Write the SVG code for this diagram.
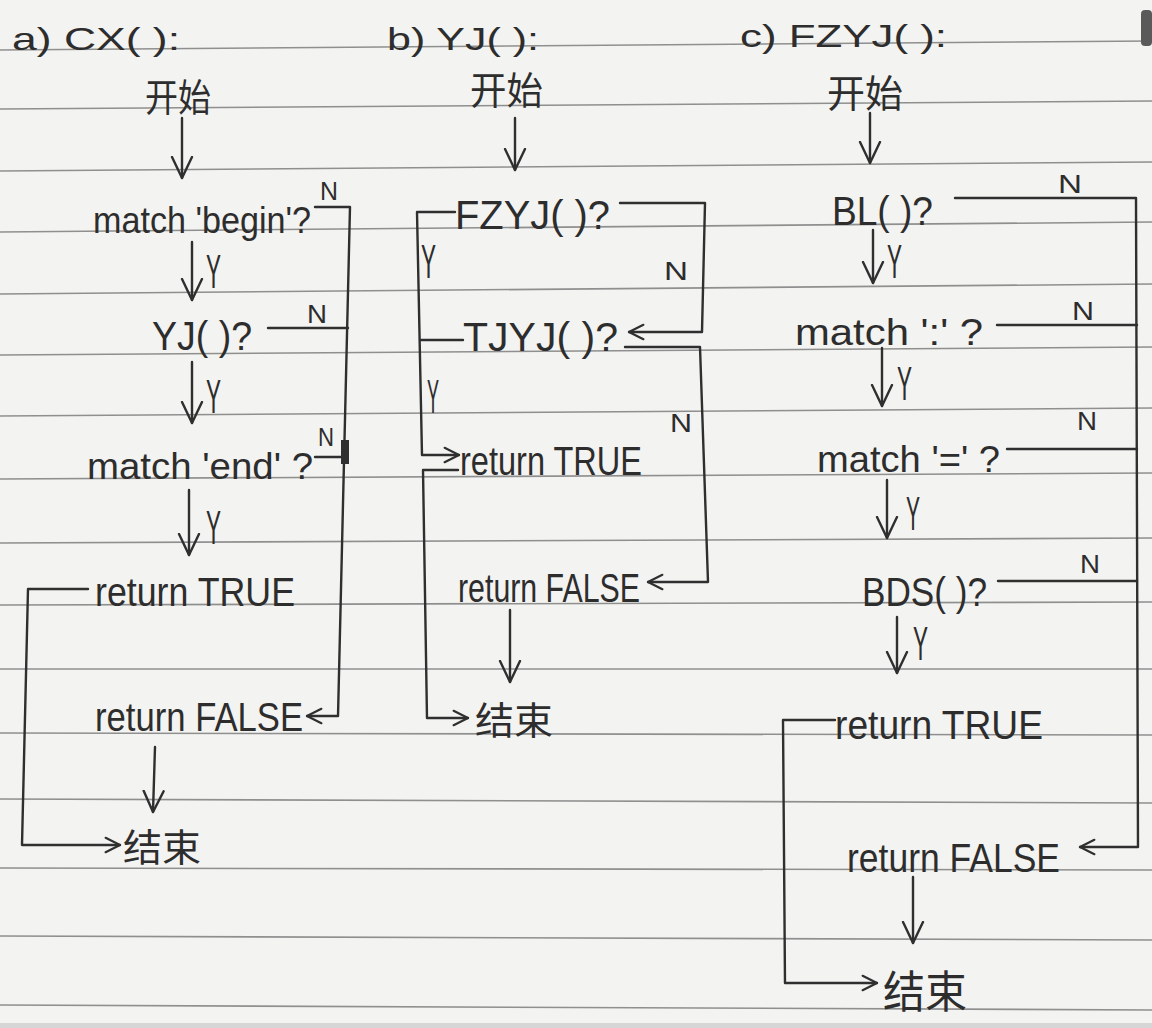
<svg xmlns="http://www.w3.org/2000/svg" width="1152" height="1028" viewBox="0 0 1152 1028">
<defs>
<style>
text{font-family:"Liberation Sans","Noto Sans CJK SC",sans-serif;fill:#2d2d2d}
.ttl{font-size:32px}
.t{font-size:36px}
.t2{font-size:40px}
.cj{font-size:38px}
.cjb{font-size:44px}
.yl{font-size:48px}
.nl{font-size:26px}
.c{fill:none;stroke:#2f2f2f;stroke-width:2.4;stroke-linecap:round;stroke-linejoin:round}
.rule{stroke:#8f8f8f;stroke-width:1.6}
</style>
<marker id="dn" viewBox="0 0 24 24" refX="22" refY="12" markerWidth="24" markerHeight="24" markerUnits="userSpaceOnUse" orient="auto"><path d="M1,2 L22,12 L1,22" fill="none" stroke="#2f2f2f" stroke-width="2.4" stroke-linecap="round" stroke-linejoin="round"/></marker>
<marker id="sd" viewBox="0 0 20 20" refX="18" refY="10" markerWidth="18" markerHeight="18" markerUnits="userSpaceOnUse" orient="auto"><path d="M2,2 L18,10 L2,18" fill="none" stroke="#2f2f2f" stroke-width="2.4" stroke-linecap="round" stroke-linejoin="round"/></marker>
</defs>
<rect width="1152" height="1028" fill="#f3f3f1"/>
<g id="paper">
<line class="rule" x1="0" y1="50" x2="1152" y2="41"/>
<line class="rule" x1="0" y1="109" x2="1152" y2="101"/>
<line class="rule" x1="0" y1="171" x2="1152" y2="162"/>
<line class="rule" x1="0" y1="232" x2="1152" y2="222"/>
<line class="rule" x1="0" y1="294" x2="1152" y2="284"/>
<line class="rule" x1="0" y1="355" x2="1152" y2="347"/>
<line class="rule" x1="0" y1="416" x2="1152" y2="408"/>
<line class="rule" x1="0" y1="479" x2="1152" y2="473"/>
<line class="rule" x1="0" y1="543" x2="1152" y2="538"/>
<line class="rule" x1="0" y1="605" x2="1152" y2="602"/>
<line class="rule" x1="0" y1="669" x2="1152" y2="669"/>
<line class="rule" x1="0" y1="733" x2="1152" y2="735"/>
<line class="rule" x1="0" y1="799" x2="1152" y2="803"/>
<line class="rule" x1="0" y1="868" x2="1152" y2="870"/>
<line class="rule" x1="0" y1="936" x2="1152" y2="940"/>
<line class="rule" x1="0" y1="1005" x2="1152" y2="1010"/>
<rect x="1141" y="10" width="11" height="36" rx="4" fill="#5a5a5a"/>
<rect x="0" y="1023" width="1152" height="5" fill="#d6d6d6"/>
</g>

<g id="connectors">
<!-- a -->
<path class="c" d="M182 118 V178" marker-end="url(#dn)"/>
<path class="c" d="M192 242 V300" marker-end="url(#dn)"/>
<path class="c" d="M192 362 V423" marker-end="url(#dn)"/>
<path class="c" d="M189 490 V555" marker-end="url(#dn)"/>
<path class="c" d="M155 747 L153 812" marker-end="url(#dn)"/>
<path class="c" d="M315 207 H350 L338 716 H307" marker-end="url(#sd)"/>
<path class="c" d="M268 328 H348"/>
<path class="c" d="M315 457 H346"/>
<rect x="341" y="440" width="8" height="24" fill="#2f2f2f"/>
<path class="c" d="M88 589 H28 L22 845 H120" marker-end="url(#sd)"/>
<!-- b -->
<path class="c" d="M515 118 V170" marker-end="url(#dn)"/>
<path class="c" d="M455 212 H417 L422 455 H459" marker-end="url(#sd)"/>
<path class="c" d="M463 340 H420"/>
<path class="c" d="M458 470 H423 L427 718 H468" marker-end="url(#sd)"/>
<path class="c" d="M620 203 H705 L702 332 H629" marker-end="url(#sd)"/>
<path class="c" d="M625 347 H700 L708 582 H648" marker-end="url(#sd)"/>
<path class="c" d="M510 610 V682" marker-end="url(#dn)"/>
<!-- c -->
<path class="c" d="M870 113 V163" marker-end="url(#dn)"/>
<path class="c" d="M873 230 V283" marker-end="url(#dn)"/>
<path class="c" d="M882 348 V406" marker-end="url(#dn)"/>
<path class="c" d="M887 480 V538" marker-end="url(#dn)"/>
<path class="c" d="M897 617 V673" marker-end="url(#dn)"/>
<path class="c" d="M913 877 V943" marker-end="url(#dn)"/>
<path class="c" d="M955 198 H1136 L1138 847 H1080" marker-end="url(#sd)"/>
<path class="c" d="M997 325 H1137"/>
<path class="c" d="M1007 449 H1137"/>
<path class="c" d="M998 581 H1137"/>
<path class="c" d="M835 720 H783 L785 983 H877" marker-end="url(#sd)"/>
</g>

<g id="edge-labels">
<text class="yl" x="206" y="288" textLength="15" lengthAdjust="spacingAndGlyphs">Y</text>
<text class="yl" x="206" y="413" textLength="15" lengthAdjust="spacingAndGlyphs">Y</text>
<text class="yl" x="206" y="544" textLength="15" lengthAdjust="spacingAndGlyphs">Y</text>
<text class="nl" x="320" y="200" textLength="18" lengthAdjust="spacingAndGlyphs">N</text>
<text class="nl" x="307" y="323" textLength="20" lengthAdjust="spacingAndGlyphs">N</text>
<text class="nl" x="318" y="446" textLength="16" lengthAdjust="spacingAndGlyphs">N</text>
<text class="yl" x="421" y="278" textLength="15" lengthAdjust="spacingAndGlyphs">Y</text>
<text class="yl" x="427" y="413" textLength="12" lengthAdjust="spacingAndGlyphs">Y</text>
<text class="nl" x="664" y="280" textLength="24" lengthAdjust="spacingAndGlyphs">N</text>
<text class="nl" x="670" y="432" textLength="22" lengthAdjust="spacingAndGlyphs">N</text>
<text class="yl" x="887" y="278" textLength="15" lengthAdjust="spacingAndGlyphs">Y</text>
<text class="yl" x="897" y="400" textLength="15" lengthAdjust="spacingAndGlyphs">Y</text>
<text class="yl" x="906" y="530" textLength="14" lengthAdjust="spacingAndGlyphs">Y</text>
<text class="yl" x="913" y="660" textLength="15" lengthAdjust="spacingAndGlyphs">Y</text>
<text class="nl" x="1058" y="193" textLength="24" lengthAdjust="spacingAndGlyphs">N</text>
<text class="nl" x="1072" y="320" textLength="22" lengthAdjust="spacingAndGlyphs">N</text>
<text class="nl" x="1077" y="430" textLength="20" lengthAdjust="spacingAndGlyphs">N</text>
<text class="nl" x="1080" y="573" textLength="20" lengthAdjust="spacingAndGlyphs">N</text>
</g>

<g id="a-title"><text class="ttl" x="12" y="50" textLength="168" lengthAdjust="spacingAndGlyphs">a) CX( ):</text></g>
<g id="a-start"><text class="cj" x="145" y="111" textLength="66" lengthAdjust="spacingAndGlyphs">开始</text></g>
<g id="a-begin"><text class="t" x="93" y="233" textLength="218" lengthAdjust="spacingAndGlyphs">match 'begin'?</text></g>
<g id="a-yj"><text class="t2" x="152" y="350" textLength="100" lengthAdjust="spacingAndGlyphs">YJ( )?</text></g>
<g id="a-end-match"><text class="t" x="87" y="479" textLength="226" lengthAdjust="spacingAndGlyphs">match 'end' ?</text></g>
<g id="a-true"><text class="t2" x="95" y="606" textLength="200" lengthAdjust="spacingAndGlyphs">return TRUE</text></g>
<g id="a-false"><text class="t2" x="95" y="731" textLength="208" lengthAdjust="spacingAndGlyphs">return FALSE</text></g>
<g id="a-end"><text class="cj" x="123" y="861" textLength="78" lengthAdjust="spacingAndGlyphs">结束</text></g>

<g id="b-title"><text class="ttl" x="387" y="50" textLength="152" lengthAdjust="spacingAndGlyphs">b) YJ( ):</text></g>
<g id="b-start"><text class="cj" x="470" y="104" textLength="73" lengthAdjust="spacingAndGlyphs">开始</text></g>
<g id="b-fzyj"><text class="t2" x="455" y="229" textLength="155" lengthAdjust="spacingAndGlyphs">FZYJ( )?</text></g>
<g id="b-tjyj"><text class="t2" x="463" y="351" textLength="155" lengthAdjust="spacingAndGlyphs">TJYJ( )?</text></g>
<g id="b-true"><text class="t2" x="460" y="475" textLength="182" lengthAdjust="spacingAndGlyphs">return TRUE</text></g>
<g id="b-false"><text class="t2" x="458" y="602" textLength="182" lengthAdjust="spacingAndGlyphs">return FALSE</text></g>
<g id="b-end"><text class="cj" x="475" y="734" textLength="78" lengthAdjust="spacingAndGlyphs">结束</text></g>

<g id="c-title"><text class="ttl" x="740" y="47" textLength="207" lengthAdjust="spacingAndGlyphs">c) FZYJ( ):</text></g>
<g id="c-start"><text class="cj" x="827" y="107" textLength="76" lengthAdjust="spacingAndGlyphs">开始</text></g>
<g id="c-bl"><text class="t2" x="832" y="225" textLength="101" lengthAdjust="spacingAndGlyphs">BL( )?</text></g>
<g id="c-colon"><text class="t" x="795" y="345" textLength="188" lengthAdjust="spacingAndGlyphs">match ':' ?</text></g>
<g id="c-eq"><text class="t" x="817" y="472" textLength="183" lengthAdjust="spacingAndGlyphs">match '=' ?</text></g>
<g id="c-bds"><text class="t2" x="862" y="606" textLength="125" lengthAdjust="spacingAndGlyphs">BDS( )?</text></g>
<g id="c-true"><text class="t2" x="835" y="739" textLength="208" lengthAdjust="spacingAndGlyphs">return TRUE</text></g>
<g id="c-false"><text class="t2" x="847" y="872" textLength="213" lengthAdjust="spacingAndGlyphs">return FALSE</text></g>
<g id="c-end"><text class="cjb" x="883" y="1008" textLength="84" lengthAdjust="spacingAndGlyphs">结束</text></g>
</svg>
